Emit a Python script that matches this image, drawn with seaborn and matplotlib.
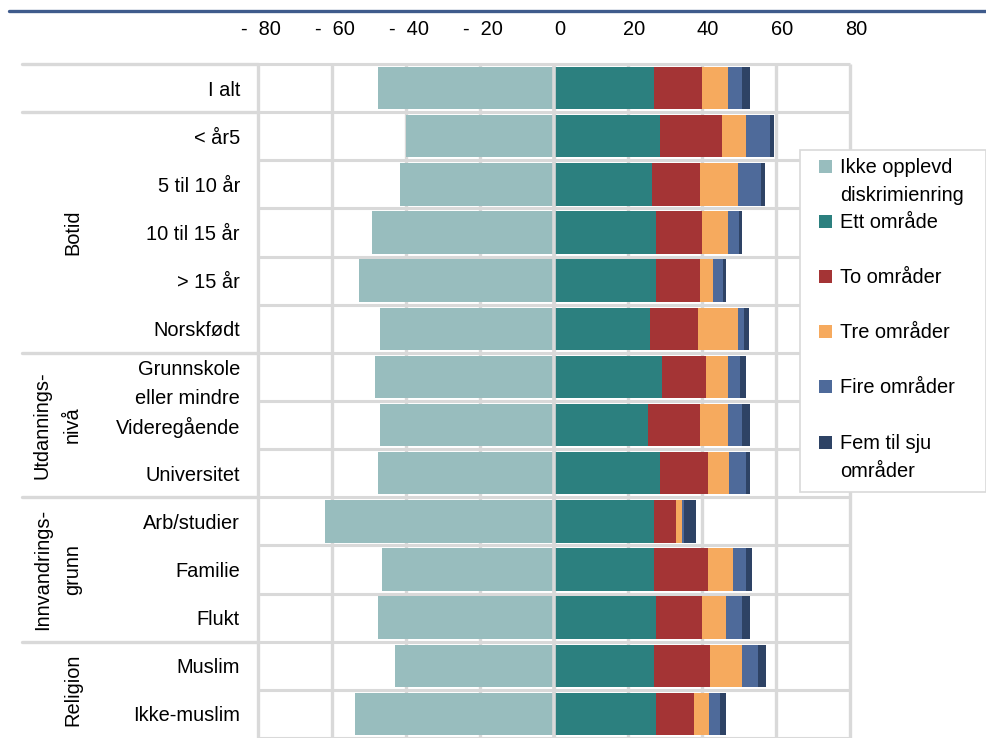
import numpy as np
import pandas as pd
import matplotlib
matplotlib.use("Agg")
import matplotlib.pyplot as plt
import matplotlib.transforms as mtransforms
from matplotlib.lines import Line2D
from matplotlib.patches import Rectangle
import seaborn as sns

# ---- data ----
categories = ['I alt', '< år5', '5 til 10 år', '10 til 15 år', '> 15 år', 'Norskfødt',
              'Grunnskole\neller mindre', 'Videregående', 'Universitet',
              'Arb/studier', 'Familie', 'Flukt', 'Muslim', 'Ikke-muslim']
ikke = [47.5, 40.0, 41.5, 49.1, 52.8, 46.9, 48.4, 46.9, 47.5, 62.0, 46.4, 47.5, 43.1, 53.9]
ett = [27.0, 28.6, 26.4, 27.5, 27.5, 25.9, 29.1, 25.4, 28.6, 27.0, 27.0, 27.5, 27.0, 27.5]
to = [12.9, 16.8, 13.0, 12.4, 11.9, 13.0, 12.0, 14.0, 13.0, 6.0, 14.6, 12.4, 15.1, 10.3]
tre = [7.1, 6.4, 10.3, 7.1, 3.7, 10.8, 5.9, 7.6, 5.8, 1.5, 6.9, 6.6, 8.7, 4.2]
fire = [3.9, 6.6, 6.2, 2.9, 2.5, 1.7, 3.3, 3.9, 4.5, 0.6, 3.4, 4.4, 4.4, 2.9]
fem = [2.1, 1.1, 1.0, 1.0, 0.9, 1.2, 1.6, 2.1, 1.1, 3.4, 1.6, 2.1, 2.1, 1.6]

series_names = ['Ikke opplevd\ndiskrimienring', 'Ett område', 'To områder',
                'Tre områder', 'Fire områder', 'Fem til sju\nområder']
series_colors = ['#98BDBE', '#2C807F', '#A43435', '#F6AA5E', '#4E6A9A', '#2E4365']

groups = ['Botid', 'Utdannings-\nnivå', 'Innvandrings-\ngrunn', 'Religion']
group_first = [1, 6, 9, 12]
group_last = [5, 8, 11, 13]

xticks = [-80, -60, -40, -20, 0, 20, 40, 60, 80]
xtick_labels = ['-  80', '-  60', '-  40', '-  20', '0', '20', '40', '60', '80']

df = pd.DataFrame({'kategori': categories, 'ikke': ikke, 'ett': ett, 'to': to,
                   'tre': tre, 'fire': fire, 'fem': fem})

sns.set_style('white')
plt.rcParams['font.family'] = ['Liberation Sans', 'DejaVu Sans']
plt.rcParams['text.color'] = 'black'
plt.rcParams['xtick.color'] = 'black'
plt.rcParams['ytick.color'] = 'black'
FS = 14.4
GRID = '#D9D9D9'

W, H = 987, 738
fig = plt.figure(figsize=(W / 100, H / 100), dpi=100)
ax = fig.add_axes([258 / W, 0, 592 / W, 674 / H])

# stacked positive side: draw cumulative totals from longest to shortest
pos_cols = ['ett', 'to', 'tre', 'fire', 'fem']
cum = df[pos_cols].cumsum(axis=1)
for k in range(len(pos_cols) - 1, -1, -1):
    sns.barplot(x=cum[pos_cols[k]], y=df['kategori'], order=categories, orient='h',
                color=series_colors[k + 1], saturation=1, width=0.88,
                linewidth=0, errorbar=None, ax=ax, zorder=2)
# negative side
sns.barplot(x=-df['ikke'], y=df['kategori'], order=categories, orient='h',
            color=series_colors[0], saturation=1, width=0.88,
            linewidth=0, errorbar=None, ax=ax, zorder=2)

n = len(categories)
ax.set_xlim(-80, 80)
ax.set_ylim(n - 0.5, -0.5)
for s in ax.spines.values():
    s.set_visible(False)
ax.set_xlabel('')
ax.set_ylabel('')

# gridlines
ax.vlines(xticks, -0.5, n - 0.5, color=GRID, lw=2.4, zorder=0.5, clip_on=False)
ax.hlines(np.arange(-0.5, n), -80, 80, color=GRID, lw=2.2, zorder=0.5, clip_on=False)
ax.axvline(0, color=GRID, lw=2.6, zorder=5)

# top ticks
ax.xaxis.tick_top()
ax.set_xticks(xticks, xtick_labels)
ax.tick_params(axis='x', length=0, pad=18, labelsize=FS)
for v, lab in zip(xticks, ax.get_xticklabels()):
    dx = 3 if v < 0 else 6
    lab.set_transform(lab.get_transform() +
                      mtransforms.ScaledTranslation(dx / 100, 0, fig.dpi_scale_trans))
ax.tick_params(axis='y', length=0, pad=13, labelsize=FS)
for lab in ax.get_yticklabels():
    lab.set_linespacing(1.65)

# group separators and labels in the category area
trans = mtransforms.blended_transform_factory(ax.transAxes, ax.transData)
x_left = (22 - 258) / 592
for yb in [-0.5] + [g - 0.5 for g in group_first]:
    ax.plot([x_left, 0], [yb, yb], transform=trans, color=GRID, lw=2.4,
            clip_on=False, zorder=3)
for name, a, b in zip(groups, group_first, group_last):
    ax.text((82 - 258) / 592, (a + b) / 2, name, transform=trans, rotation=90,
            ha='right', va='center', multialignment='center', fontsize=FS,
            linespacing=1.75)

# title rule
fig.add_artist(Line2D([9 / W, 1], [1 - 11 / H, 1 - 11 / H], color='#3F5B8C', lw=2.4,
                      transform=fig.transFigure))

# legend box drawn by hand to keep Excel's even spacing
fig.add_artist(Rectangle((800 / W, 1 - 492 / H), 186 / W, 342 / H, transform=fig.transFigure,
                         facecolor='white', edgecolor=GRID, lw=1.2, zorder=10))
leg_y = [166, 221, 276, 331, 386, 442]
for name, col, py in zip(series_names, series_colors, leg_y):
    fig.add_artist(Rectangle((819 / W, 1 - (py + 7) / H), 13 / W, 13 / H,
                             transform=fig.transFigure, facecolor=col,
                             edgecolor='none', zorder=11))
    fig.text(840 / W, 1 - (py - 8) / H, name, ha='left', va='top', fontsize=FS,
             linespacing=1.6, zorder=12)

fig.savefig('out.png', dpi=100)
